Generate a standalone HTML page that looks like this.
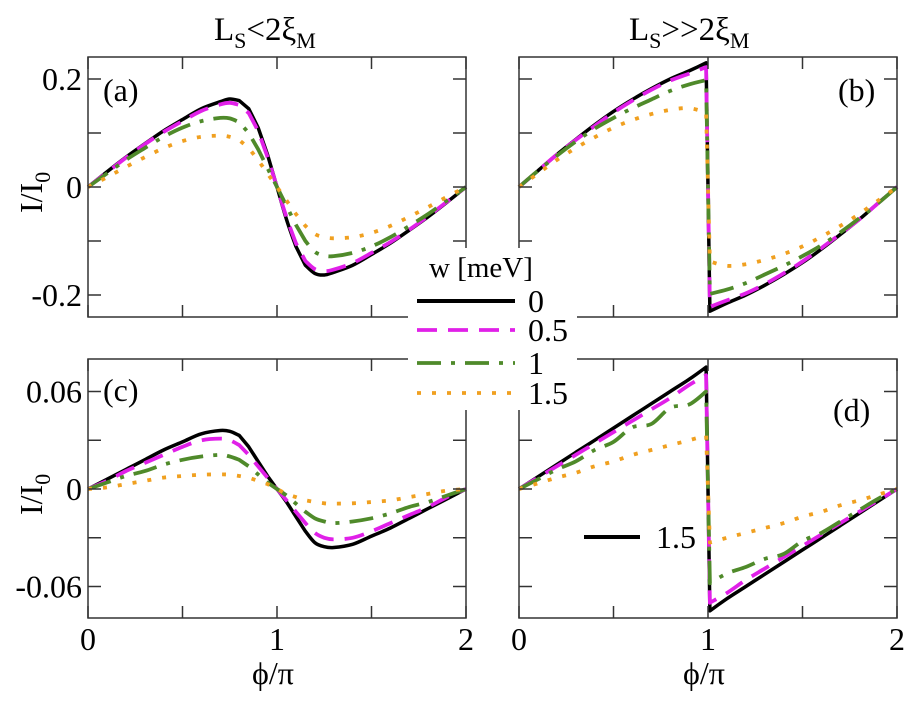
<!DOCTYPE html>
<html><head><meta charset="utf-8"><style>
body{margin:0;background:#fff;}
svg text{font-family:"Liberation Serif","Times New Roman",serif;fill:#000;}
</style></head><body>
<svg id="fig" width="908" height="696" viewBox="0 0 908 696" xmlns="http://www.w3.org/2000/svg" font-family="Liberation Serif, serif"></svg>
<script>
const xsSmooth=[0,.1,.2,.3,.4,.5,.6,.7,.75,.8,.85,.9,.95,1,1.05,1.1,1.15,1.2,1.25,1.3,1.4,1.5,1.6,1.7,1.8,1.9,2];
const xsJump=[0,.1,.2,.3,.4,.5,.6,.7,.8,.9,.99,1.01,1.1,1.2,1.3,1.4,1.5,1.6,1.7,1.8,1.9,2];
const aBlack=[0,.028,.055,.08,.104,.125,.145,.158,.163,.16,.145,.11,.06,0,-.06,-.11,-.145,-.16,-.163,-.158,-.145,-.125,-.104,-.08,-.055,-.028,0];
const aMag=[0,.027,.054,.079,.102,.122,.141,.153,.156,.152,.137,.104,.056,0,-.056,-.104,-.137,-.152,-.156,-.153,-.141,-.122,-.102,-.079,-.054,-.027,0];
const aGreen=[0,.025,.05,.072,.093,.11,.122,.128,.127,.12,.1,.07,.035,0,-.035,-.07,-.1,-.12,-.127,-.128,-.122,-.11,-.093,-.072,-.05,-.025,0];
const aOrange=[0,.018,.037,.055,.072,.085,.093,.095,.093,.087,.072,.05,.025,0,-.025,-.05,-.072,-.087,-.093,-.095,-.093,-.085,-.072,-.055,-.037,-.018,0];
const cBlack=[0,.006,.012,.018,.024,.029,.034,.036,.0355,.033,.026,.017,.008,0,-.008,-.017,-.026,-.033,-.0355,-.036,-.034,-.029,-.024,-.018,-.012,-.006,0];
const cMag=[0,.005,.011,.016,.021,.026,.03,.031,.03,.027,.021,.014,.007,0,-.007,-.014,-.021,-.027,-.03,-.031,-.03,-.026,-.021,-.016,-.011,-.005,0];
const cGreen=[0,.004,.008,.011,.015,.018,.02,.021,.02,.018,.014,.009,.004,0,-.004,-.009,-.014,-.018,-.02,-.021,-.02,-.018,-.015,-.011,-.008,-.004,0];
const cOrange=[0,.001,.003,.005,.007,.008,.0088,.009,.0088,.008,.007,.005,.003,0,-.003,-.005,-.007,-.008,-.0088,-.009,-.0088,-.008,-.007,-.005,-.003,-.001,0];
const bBlack=[0,.03,.06,.088,.115,.14,.162,.182,.2,.215,.23,-.23,-.215,-.2,-.182,-.162,-.14,-.115,-.088,-.06,-.03,0];
const bMag=[0,.03,.06,.087,.113,.138,.16,.18,.197,.21,.222,-.222,-.21,-.197,-.18,-.16,-.138,-.113,-.087,-.06,-.03,0];
const bGreen=[0,.03,.058,.084,.108,.128,.146,.162,.178,.19,.198,-.198,-.19,-.178,-.162,-.146,-.128,-.108,-.084,-.058,-.03,0];
const bOrange=[0,.025,.05,.072,.092,.11,.124,.135,.143,.146,.138,-.138,-.146,-.143,-.135,-.124,-.11,-.092,-.072,-.05,-.025,0];
const dBlack=[0,.0075,.015,.0225,.03,.0375,.045,.0525,.06,.0675,.075,-.075,-.0675,-.06,-.0525,-.045,-.0375,-.03,-.0225,-.015,-.0075,0];
const dMag=[0,.007,.014,.021,.028,.035,.042,.049,.056,.064,.07,-.07,-.064,-.056,-.049,-.042,-.035,-.028,-.021,-.014,-.007,0];
const dGreen=[0,.006,.012,.017,.024,.029,.038,.04,.05,.052,.06,-.058,-.052,-.048,-.043,-.04,-.032,-.027,-.02,-.013,-.006,0];
const dOrange=[0,.0035,.007,.01,.014,.017,.021,.024,.027,.03,.033,-.033,-.03,-.027,-.024,-.021,-.017,-.014,-.01,-.007,-.0035,0];
const legendLabels=["0","0.5","1","1.5"];
const xTicks=["0","1","2"];

const NS="http://www.w3.org/2000/svg";
const svg=document.getElementById('fig');
function mk(tag,attrs,parent){const e=document.createElementNS(NS,tag);for(const k in attrs)e.setAttribute(k,attrs[k]);(parent||svg).appendChild(e);return e;}
const styles=[
 {stroke:"#000",dash:""},
 {stroke:"#e020e8",dash:"20 11"},
 {stroke:"#4f8a2a",dash:"24 10 4 10"},
 {stroke:"#f0a020",dash:"4 11"}];
const names=["w0","w0-5","w1","w1-5"];

function smoothPath(P){
  // split where x gap tiny (jump), catmull-rom within segments
  const segs=[];let cur=[P[0]];
  for(let i=1;i<P.length;i++){
    if(P[i].gap){segs.push(cur);cur=[P[i-1],P[i]];segs.push(cur);cur=[P[i]];}
    else cur.push(P[i]);
  }
  segs.push(cur);
  let d='M'+P[0].x.toFixed(1)+' '+P[0].y.toFixed(1);
  segs.forEach(S=>{
    if(S.length<2)return;
    if(S.length==2){d+='L'+S[1].x.toFixed(1)+' '+S[1].y.toFixed(1);return;}
    for(let i=0;i<S.length-1;i++){
      const p0=S[Math.max(0,i-1)],p1=S[i],p2=S[i+1],p3=S[Math.min(S.length-1,i+2)];
      const c1x=p1.x+(p2.x-p0.x)/6,c1y=p1.y+(p2.y-p0.y)/6;
      const c2x=p2.x-(p3.x-p1.x)/6,c2y=p2.y-(p3.y-p1.y)/6;
      d+='C'+c1x.toFixed(1)+' '+c1y.toFixed(1)+' '+c2x.toFixed(1)+' '+c2y.toFixed(1)+' '+p2.x.toFixed(1)+' '+p2.y.toFixed(1);
    }
  });
  return d;
}

function panel(id,x0,x1,y0,y1,yZero,pxPerUnit,xs,series,yTickVals,yTickLabels,minorStep,label,labelX,labelY,showYLabels,showXLabels){
  const g=mk('g',{});
  
  
  const X=v=>x0+(x1-x0)*v/2;
  const Y=v=>yZero-v*pxPerUnit;
  series.forEach((s,i)=>{
    const P=xs.map((xv,j)=>({x:X(xv),y:Y(s[j]),gap:j>0&&(xv-xs[j-1])<0.05}));
    const p=mk('path',{d:smoothPath(P),fill:'none',stroke:styles[i].stroke,'stroke-width':i==0?3.5:3.8,'stroke-dasharray':styles[i].dash,'stroke-linejoin':'round'},g);
    
    
  });
  const fr=mk('rect',{x:x0,y:y0,width:x1-x0,height:y1-y0,fill:'none',stroke:'#333','stroke-width':1.5},g);
  
  
  for(let k=0;k<=4;k++){const xx=x0+(x1-x0)*k/4;mk('line',{x1:xx,x2:xx,y1:y1,y2:y1-12,stroke:'#333','stroke-width':1.5},g);mk('line',{x1:xx,x2:xx,y1:y0,y2:y0+12,stroke:'#333','stroke-width':1.5},g);}
  for(let v=-5;v<=5;v++){const yy=Y(v*minorStep);if(yy<y0+2||yy>y1-2)continue;mk('line',{x1:x0,x2:x0+13,y1:yy,y2:yy,stroke:'#333','stroke-width':1.5},g);mk('line',{x1:x1,x2:x1-13,y1:yy,y2:yy,stroke:'#333','stroke-width':1.5},g);}
  if(showYLabels){yTickVals.forEach((v,k)=>{const t=mk('text',{x:x0-6,y:Y(v)+11,'text-anchor':'end','font-size':32},g);t.textContent=yTickLabels[k];});}
  if(showXLabels){xTicks.forEach((l,k)=>{const t=mk('text',{x:x0+(x1-x0)*k/2,y:y1+32,'text-anchor':'middle','font-size':32},g);t.textContent=l;});}
  const pl=mk('text',{x:labelX,y:labelY,'font-size':32},g);pl.textContent=label;
  
  
}
panel('a',88,466,57,317,187,540,xsSmooth,[aBlack,aMag,aGreen,aOrange],[.2,0,-.2],["0.2","0","-0.2"],.1,"(a)",103,101,true,false);
panel('b',519,897,57,317,187,540,xsJump,[bBlack,bMag,bGreen,bOrange],[],[],.1,"(b)",838,101,false,false);
panel('c',88,466,359,618,489,1625,xsSmooth,[cBlack,cMag,cGreen,cOrange],[.06,0,-.06],["0.06","0","-0.06"],.03,"(c)",103,401,true,true);
panel('d',519,897,359,618,489,1625,xsJump,[dBlack,dMag,dGreen,dOrange],[],[],.03,"(d)",833,421,false,true);

const lg=mk('g',{});


mk('rect',{x:408,y:248,width:169,height:162,fill:'#fff'},lg);
const lt=mk('text',{x:429,y:277,'font-size':29},lg);lt.textContent="w [meV]";


const rowY=[301,330,363,393];
legendLabels.forEach((l,i)=>{
  const ln=mk('line',{x1:417,x2:515,y1:rowY[i],y2:rowY[i],stroke:styles[i].stroke,'stroke-width':i==0?4:3.8,'stroke-dasharray':styles[i].dash},lg);
  
  
  const t=mk('text',{x:528,y:rowY[i]+11,'font-size':32},lg);t.textContent=l;
  
  
});
const sk=mk('line',{x1:584,x2:640,y1:537,y2:537,stroke:'#000','stroke-width':4});


const st=mk('text',{x:656,y:548,'font-size':32});st.textContent="1.5";



function T(x,y,html,size,name,rot){const t=document.createElementNS(NS,'text');t.setAttribute('x',x);t.setAttribute('y',y);t.setAttribute('font-size',size);if(rot)t.setAttribute('transform',rot);t.innerHTML=html;


svg.appendChild(t);}
T(214,40,'L<tspan font-size="22" dy="8">S</tspan><tspan dy="-8">&lt;2ξ</tspan><tspan font-size="22" dy="8">M</tspan>',33,'title-left');
T(629,40,'L<tspan font-size="22" dy="8">S</tspan><tspan dy="-8">&gt;&gt;2ξ</tspan><tspan font-size="22" dy="8">M</tspan>',33,'title-right');
T(42,213,'I/I<tspan font-size="22" dy="8">0</tspan>',32,'y-axis-title-top','rotate(-90 42 213)');
T(42,515,'I/I<tspan font-size="22" dy="8">0</tspan>',32,'y-axis-title-bottom','rotate(-90 42 515)');
T(252,684,'ϕ/π',32,'x-axis-title-left');
T(683,684,'ϕ/π',32,'x-axis-title-right');
</script>
</body></html>
